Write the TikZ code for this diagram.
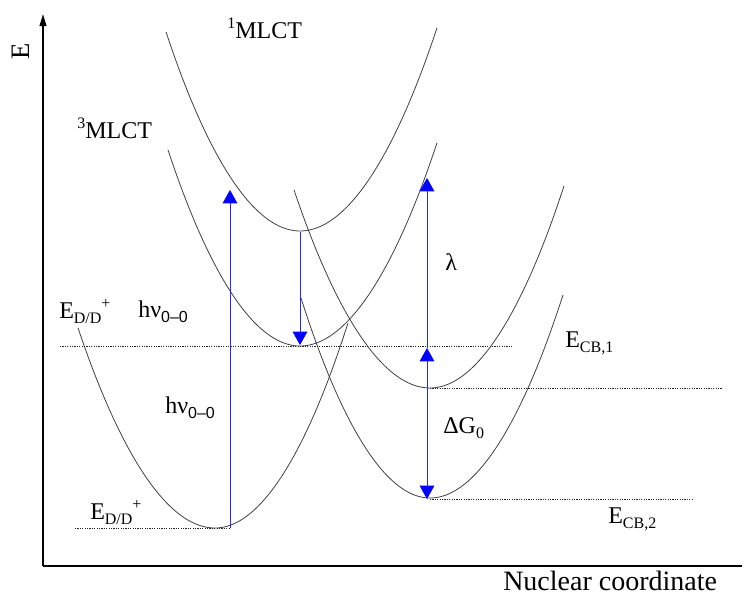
\documentclass[tikz,border=0pt]{standalone}
\usepackage{fontspec}
\setmainfont{Liberation Serif}
\newfontfamily\subsans{Liberation Sans}
\usetikzlibrary{arrows.meta}
\newcommand{\lowtx}[1]{\raisebox{-0.5ex}{\fontsize{12}{12}\selectfont #1}}
\newcommand{\lowsans}[1]{\raisebox{-0.5ex}{\subsans\fontsize{12}{12}\selectfont #1}}
\newcommand{\hightx}[1]{\raisebox{0.85ex}{\fontsize{12}{12}\selectfont #1}}
\begin{document}
\begin{tikzpicture}[x=0.75pt,y=-0.75pt,
  curve/.style={draw=black!75, line width=0.6pt},
  level/.style={draw=black!85, line width=0.7pt, dash pattern=on 0.9pt off 0.9pt},
  transition/.style={draw=blue!85!white, line width=0.75pt},
  bluehead/.style={-{Triangle[width=11pt,length=10pt,color=blue,fill=blue]}},
  axisline/.style={draw=black, line width=1.4pt},
  lbl/.style={font=\fontsize{18}{18}\selectfont, inner sep=0pt, anchor=base west},
]
\useasboundingbox (0,0) rectangle (744,603);

% axes
\coordinate (origin) at (43,566);
\coordinate (ytop) at (43,14);
\coordinate (xend) at (742,566);
\draw[axisline, -{Triangle[length=9pt,width=5pt]}] (origin) -- (ytop);
\draw[draw=black, line width=1.1pt] (origin) -- (xend);
\node[font=\fontsize{20}{20}\selectfont, rotate=90, inner sep=0pt] (elabel) at (21,51) {E};
\node[lbl, font=\fontsize{21}{21}\selectfont] (xlabel) at (503,590) {Nuclear coordinate};

% potential curves
\draw[curve] (166,32) parabola bend (300,231) (437,28);   % 1MLCT
\draw[curve] (168,150) parabola bend (300,346) (437,143); % 3MLCT
\draw[curve] (78,328) parabola bend (215,528) (348,323);  % ground
\draw[curve] (294,190) parabola bend (430,388) (564,186); % CB,1
\draw[curve] (301,298) parabola bend (430,498) (563,295); % CB,2

% levels
\coordinate (l3a) at (60,346);  \coordinate (l3b) at (512,346);
\coordinate (lga) at (75,528);  \coordinate (lgb) at (230,528);
\coordinate (lc1a) at (430,388); \coordinate (lc1b) at (722,388);
\coordinate (lc2a) at (430,499); \coordinate (lc2b) at (693,499);
\draw[level] (l3a) -- (l3b);
\draw[level] (lga) -- (lgb);
\draw[level] (lc1a) -- (lc1b);
\draw[level] (lc2a) -- (lc2b);

% transitions
\coordinate (abs0) at (230,528); \coordinate (abs1) at (230,190);
\coordinate (isc0) at (300,232); \coordinate (isc1) at (300,345);
\coordinate (lam0) at (427,348); \coordinate (lam1) at (427,178);
\coordinate (dg0) at (427,499);
\draw[transition, bluehead] (abs0) -- (abs1);
\draw[transition, bluehead] (isc0) -- (isc1);
\draw[transition, bluehead] (lam0) -- (lam1);
\draw[transition, {Triangle[width=11pt,length=10pt,color=blue,fill=blue]}-{Triangle[width=11pt,length=10pt,color=blue,fill=blue]}] (dg0) -- (lam0);

% labels
\node[lbl] (s1) at (227,38) {\hightx{1}MLCT};
\node[lbl] (t3) at (77,138) {\hightx{3}MLCT};
\node[lbl] (edd1) at (59,318) {E\lowtx{D/D}\hightx{+}};
\node[lbl] (hv1) at (138,317) {hν\lowsans{0–0}};
\node[lbl] (hv2) at (165,413) {hν\lowsans{0–0}};
\node[lbl] (edd2) at (90,519) {E\lowtx{D/D}\hightx{+}};
\node[lbl] (lam) at (445,270) {λ};
\node[lbl] (dg) at (443,433) {ΔG\lowtx{0}};
\node[lbl] (ecb1) at (565,347) {E\lowtx{CB,1}};
\node[lbl] (ecb2) at (608,523) {E\lowtx{CB,2}};
\end{tikzpicture}
\end{document}
